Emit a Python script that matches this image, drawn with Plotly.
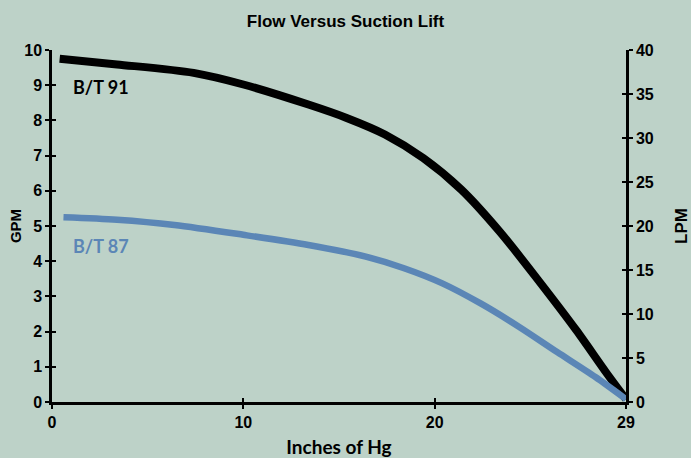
import plotly.graph_objects as go

# Data (x in axis units; last tick labelled "29")
x_tick_vals = [0, 10, 20, 30]
x_tick_text = ["0", "10", "20", "29"]

bt91_x = [0.4, 3.4, 7.4, 10.0, 13.4, 15.4, 17.4, 19.4, 21.4, 23.4, 25.4, 27.4, 29.0, 30.0]
bt91_gpm = [9.75, 9.59, 9.35, 9.02, 8.45, 8.07, 7.6, 6.93, 6.03, 4.84, 3.47, 2.04, 0.81, 0.08]

bt87_x = [0.6, 3.4, 6.4, 10.0, 13.4, 16.4, 18.4, 20.4, 22.4, 24.4, 26.4, 28.4, 30.0]
bt87_gpm = [5.25, 5.18, 5.03, 4.75, 4.46, 4.13, 3.80, 3.37, 2.80, 2.14, 1.42, 0.71, 0.08]

gpm_ticks = list(range(0, 11))
lpm_ticks = list(range(0, 45, 5))

BG = "#bdd2c8"
BLUE = "#5b86b6"
tick_font = dict(family="Liberation Sans", size=16, color="black", weight="bold")

fig = go.Figure()
fig.add_trace(go.Scatter(x=bt91_x, y=bt91_gpm, mode="lines",
                         line=dict(color="black", width=8, shape="spline", smoothing=0.8),
                         cliponaxis=False, showlegend=False, hoverinfo="skip"))
fig.add_trace(go.Scatter(x=bt87_x, y=bt87_gpm, mode="lines",
                         line=dict(color=BLUE, width=6.5, shape="spline", smoothing=0.8),
                         cliponaxis=False, showlegend=False, hoverinfo="skip"))
fig.add_trace(go.Scatter(x=[None], y=[None], yaxis="y2", showlegend=False))
fig.add_trace(go.Scatter(x=[None], y=[None], yaxis="y3", showlegend=False))
fig.add_trace(go.Scatter(x=[None], y=[None], yaxis="y4", showlegend=False))
fig.add_trace(go.Scatter(x=[None], y=[None], xaxis="x2", showlegend=False))

fig.add_annotation(x=0.033, xref="paper", y=8.95, yref="y", text="<b>B/T 91</b>",
                   showarrow=False, xanchor="left",
                   font=dict(family="Lato", size=18, color="black"))
fig.add_annotation(x=0.033, xref="paper", y=4.42, yref="y", text="<b>B/T 87</b>",
                   showarrow=False, xanchor="left",
                   font=dict(family="Lato", size=18, color=BLUE))

fig.update_layout(
    width=691, height=458,
    paper_bgcolor=BG, plot_bgcolor=BG,
    margin=dict(l=52, r=65, t=50, b=56),
    title=dict(text="<b>Flow Versus Suction Lift</b>", x=0.5, xanchor="center",
               y=0.955, yanchor="middle",
               font=dict(family="Liberation Sans", size=17, color="black")),
    xaxis=dict(range=[0, 30], tickvals=x_tick_vals, ticktext=x_tick_text, automargin=False,
               showgrid=False, zeroline=False, showline=True, linecolor="black",
               linewidth=3, ticks="outside", ticklen=4, tickwidth=2, tickcolor="black",
               tickfont=tick_font,
               title=dict(text="<b>Inches of Hg</b>", standoff=11,
                          font=dict(family="Lato", size=19, color="black"))),
    yaxis=dict(range=[0, 10], tickvals=gpm_ticks, showgrid=False, zeroline=False,
               automargin=False,
               showline=True, linecolor="black", linewidth=2.5,
               ticks="outside", ticklen=4, tickwidth=2, tickcolor="black",
               tickfont=tick_font,
               title=dict(text="<b>GPM</b>", standoff=0,
                          font=dict(family="Liberation Sans", size=15, color="black"))),
    yaxis2=dict(range=[0, 40], tickvals=lpm_ticks, overlaying="y", side="right",
                automargin=False,
                showgrid=False, zeroline=False, showline=True, linecolor="black",
                linewidth=2.5, ticks="outside", ticklen=4, tickwidth=2, tickcolor="black",
                tickfont=tick_font,
                title=dict(text="<b>LPM</b>", standoff=26,
                           font=dict(family="Liberation Sans", size=17, color="black"))),
    yaxis3=dict(range=[0, 10], tickvals=gpm_ticks, overlaying="y", side="left",
                automargin=False,
                showgrid=False, zeroline=False, showline=False, showticklabels=False,
                ticks="inside", ticklen=4, tickwidth=2, tickcolor="black"),
    yaxis4=dict(range=[0, 40], tickvals=lpm_ticks, overlaying="y", side="right",
                automargin=False,
                showgrid=False, zeroline=False, showline=False, showticklabels=False,
                ticks="inside", ticklen=4, tickwidth=2, tickcolor="black"),
    xaxis2=dict(range=[0, 30], tickvals=x_tick_vals, overlaying="x", side="bottom",
                automargin=False,
                showgrid=False, zeroline=False, showline=False, showticklabels=False,
                ticks="inside", ticklen=4, tickwidth=2, tickcolor="black"),
)

fig.write_html("out.html", config={"displayModeBar": False},
               post_script="document.body.style.margin='0';document.body.style.background='%s';" % BG)
